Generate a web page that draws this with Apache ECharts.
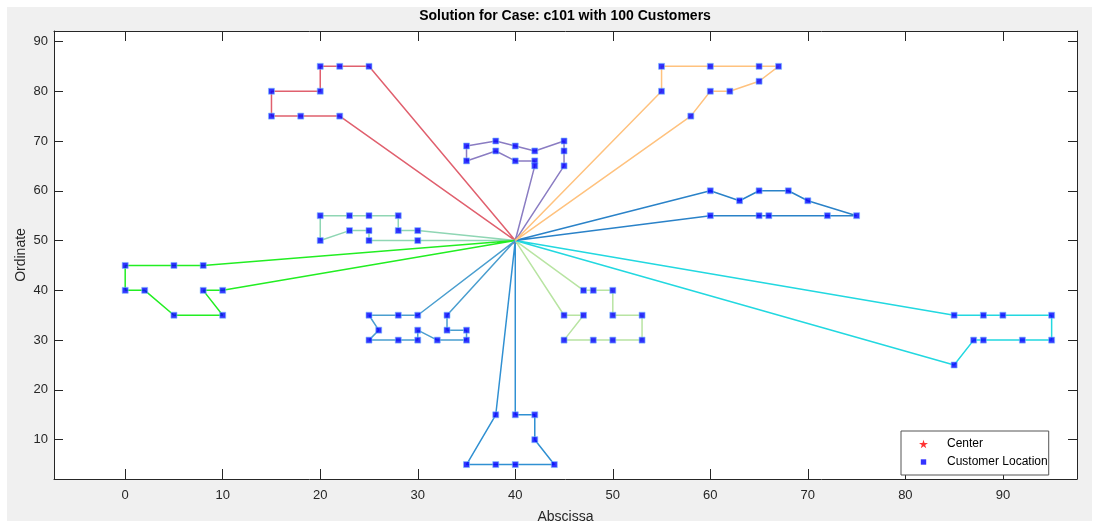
<!DOCTYPE html>
<html>
<head>
<meta charset="utf-8">
<script src="https://cdn.jsdelivr.net/npm/echarts@6/dist/echarts.min.js"></script>
<style>
html, body { margin: 0; padding: 0; background: #fff; }
#frame { position: absolute; left: 7px; top: 7px; width: 1085px; height: 514px; background: #f0f0f0; }
#chart { position: absolute; left: 0; top: 0; width: 1093px; height: 522px; }
</style>
</head>
<body>
<div id="frame"></div>
<div id="chart"></div>
<script>
// depot (Center)
var depotX = 40;
var depotY = 50;

// customer coordinates, customer n is at index n-1
var custX = [45, 45, 42, 42, 42, 40, 40, 38, 38, 35,
             35, 25, 22, 22, 20, 20, 18, 15, 15, 30,
             30, 28, 28, 25, 25, 25, 23, 23, 20, 20,
             10, 10, 8, 8, 5, 5, 2, 0, 0, 35,
             35, 33, 33, 32, 30, 30, 30, 28, 28, 26,
             25, 25, 44, 42, 42, 40, 40, 38, 38, 35,
             50, 50, 50, 48, 48, 47, 47, 45, 45, 95,
             95, 53, 92, 53, 45, 90, 88, 88, 87, 85,
             85, 75, 72, 70, 68, 66, 65, 65, 63, 60,
             60, 67, 65, 65, 62, 60, 60, 58, 55, 55];
var custY = [68, 70, 66, 68, 65, 69, 66, 68, 70, 66,
             69, 85, 75, 85, 80, 85, 75, 75, 80, 50,
             52, 52, 55, 50, 52, 55, 52, 55, 50, 55,
             35, 40, 40, 45, 35, 45, 40, 40, 45, 30,
             32, 32, 35, 30, 30, 32, 35, 30, 35, 32,
             30, 35, 5, 10, 15, 5, 15, 5, 15, 5,
             30, 35, 40, 30, 40, 35, 40, 30, 35, 30,
             35, 30, 30, 35, 65, 35, 30, 35, 30, 25,
             35, 55, 55, 58, 60, 55, 55, 60, 58, 55,
             60, 85, 85, 82, 80, 80, 85, 75, 80, 85];

// vehicle routes (customer numbers, in visiting order)
var route1 = [5, 3, 7, 8, 10, 11, 9, 6, 4, 2, 1, 75];
var route2 = [13, 17, 18, 19, 15, 16, 14, 12];
var route3 = [20, 24, 25, 27, 29, 30, 28, 26, 23, 22, 21];
var route4 = [32, 33, 31, 35, 37, 38, 39, 36, 34];
var route5 = [43, 42, 41, 40, 44, 46, 45, 48, 51, 50, 52, 49, 47];
var route6 = [57, 55, 54, 53, 56, 58, 60, 59];
var route7 = [67, 65, 63, 62, 74, 72, 61, 64, 68, 66, 69];
var route8 = [81, 78, 76, 71, 70, 73, 77, 79, 80];
var route9 = [90, 87, 86, 83, 82, 84, 85, 88, 89, 91];
var route10 = [98, 96, 95, 94, 92, 93, 97, 100, 99];
var routes = [route1, route2, route3, route4, route5, route6, route7, route8, route9, route10];

var tickValues = [0, 10, 20, 30, 40, 50, 60, 70, 80, 90];
var yTickValues = [10, 20, 30, 40, 50, 60, 70, 80, 90];

var routeColors = ['#8a7cc2', '#e0606e', '#8fd6b4', '#22ee22', '#4a9ecf',
                   '#3090d2', '#b8e4a2', '#22d8e0', '#2a82c8', '#ffc27e'];

var font = '"Liberation Sans", Arial, Helvetica, sans-serif';
var axisColor = '#262626';
var starPath = 'path://M50,0 L61,35 L98,35 L68,57 L79,91 L50,70 L21,91 L32,57 L2,35 L39,35 Z';
// square drawn smaller inside its legend box
var smallSquare = 'path://M0,0 M10,10 M2,2 L8,2 L8,8 L2,8 Z';

var chart = echarts.init(document.getElementById('chart'));

var series = [];
// center first, so lines are drawn over it
series.push({
    name: 'Center', type: 'scatter', symbol: starPath, symbolSize: 8,
    itemStyle: { color: '#ff0000' }, z: 1,
    data: [[depotX, depotY]]
});
for (var r = 0; r < routes.length; r++) {
    var pts = [[depotX, depotY]];
    for (var k = 0; k < routes[r].length; k++) {
        var c = routes[r][k] - 1;
        pts.push([custX[c], custY[c]]);
    }
    pts.push([depotX, depotY]);
    series.push({
        name: 'Route ' + (r + 1), type: 'line', showSymbol: false, symbol: 'none',
        lineStyle: { color: routeColors[r], width: 1.5 },
        itemStyle: { color: routeColors[r] },
        z: 2, silent: true, data: pts
    });
}
var customers = [];
for (var i = 0; i < custX.length; i++) customers.push([custX[i], custY[i]]);
series.push({
    name: 'Customer Location', type: 'scatter', symbol: 'rect', symbolSize: 6,
    itemStyle: { color: '#0000ff', borderColor: '#80c0ff', borderWidth: 0.8 },
    z: 3, data: customers
});

var option = {
    animation: false,
    title: {
        text: 'Solution for Case: c101 with 100 Customers',
        left: 565, top: 9, textAlign: 'center', padding: 0,
        textStyle: { fontFamily: font, fontWeight: 'bold', fontSize: 14, color: '#000' }
    },
    legend: {
        data: [{ name: 'Center', icon: starPath }, { name: 'Customer Location', icon: smallSquare }],
        orient: 'vertical', left: 901, top: 431,
        padding: [6, 1, 6, 18], itemWidth: 9, itemHeight: 9, itemGap: 4,
        backgroundColor: '#fff', borderColor: '#555', borderWidth: 1, borderRadius: 0,
        selectedMode: false,
        itemStyle: { borderWidth: 0 },
        textStyle: { fontFamily: font, fontSize: 12, color: '#000', lineHeight: 14, padding: [0, 0, 0, 14] }
    },
    grid: {
        left: 54, top: 31, width: 1023, height: 448, show: true, backgroundColor: '#fff', borderWidth: 0,
        outerBoundsMode: 'none', containLabel: false
    },
    xAxis: [{
        type: 'value', min: -7.3, max: 97.6, position: 'bottom',
        name: 'Abscissa', nameLocation: 'middle', nameGap: 31,
        nameTextStyle: { fontFamily: font, fontSize: 14, color: axisColor },
        axisLine: { onZero: false, lineStyle: { color: axisColor, width: 1 } },
        axisTick: { inside: true, length: 10, customValues: tickValues, lineStyle: { color: axisColor } },
        axisLabel: { customValues: tickValues, margin: 10, fontFamily: font, fontSize: 13, color: axisColor },
        splitLine: { show: false }
    }, {
        type: 'value', min: -7.3, max: 97.6, position: 'top',
        axisLine: { onZero: false, lineStyle: { color: axisColor, width: 1 } },
        axisTick: { inside: true, length: 10, customValues: tickValues, lineStyle: { color: axisColor } },
        axisLabel: { show: false },
        splitLine: { show: false }
    }],
    yAxis: [{
        type: 'value', min: 2.1, max: 92.1, position: 'left',
        name: 'Ordinate', nameLocation: 'middle', nameGap: 26, nameMoveOverlap: false,
        nameTextStyle: { fontFamily: font, fontSize: 14, color: axisColor },
        axisLine: { show: true, onZero: false, lineStyle: { color: axisColor, width: 1 } },
        axisTick: { show: true, inside: true, length: 9, customValues: yTickValues, lineStyle: { color: axisColor } },
        axisLabel: { customValues: yTickValues, margin: 6, fontFamily: font, fontSize: 13, color: axisColor },
        splitLine: { show: false }
    }, {
        type: 'value', min: 2.1, max: 92.1, position: 'right',
        axisLine: { show: true, onZero: false, lineStyle: { color: axisColor, width: 1 } },
        axisTick: { show: true, inside: true, length: 9, customValues: yTickValues, lineStyle: { color: axisColor } },
        axisLabel: { show: false },
        splitLine: { show: false }
    }],
    series: series
};
chart.setOption(option);
</script>
</body>
</html>
